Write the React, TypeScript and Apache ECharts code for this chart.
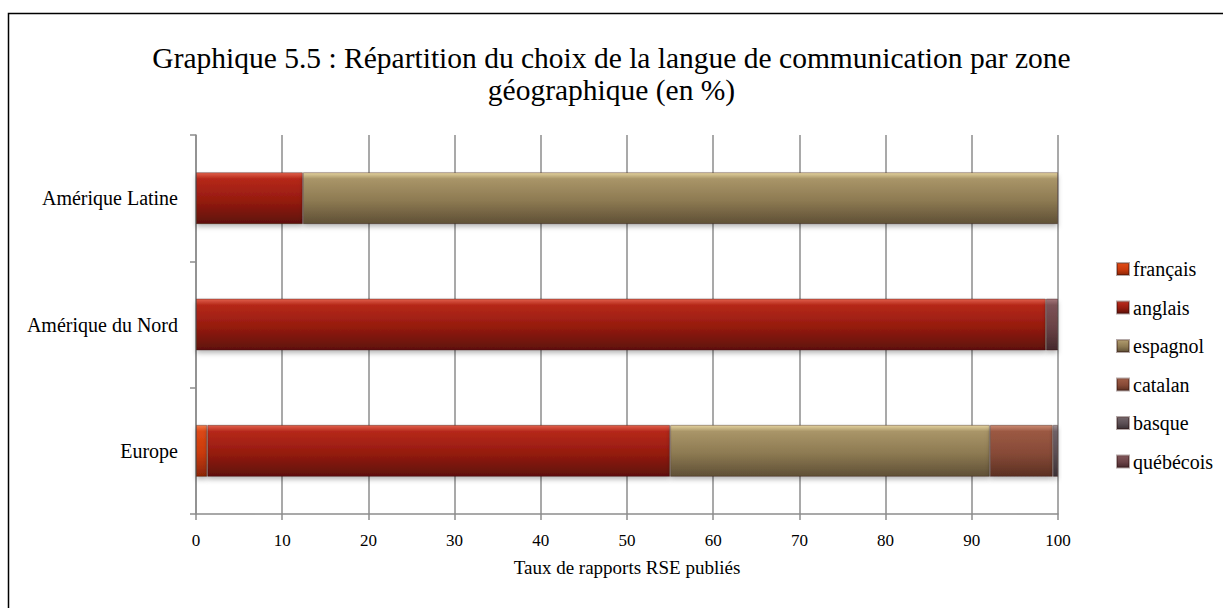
import React, { useEffect, useRef } from "react";
import * as echarts from "echarts";

const categories = ["Europe", "Amérique du Nord", "Amérique Latine"];
const seriesNames = ["français", "anglais", "espagnol", "catalan", "basque", "québécois"];
const francais = [1.3, "-", "-"];
const anglais = [53.7, 98.6, 12.4];
const espagnol = [37.1, "-", 87.6];
const catalan = [7.3, "-", "-"];
const basque = [0.6, "-", "-"];
const quebecois = ["-", 1.4, "-"];
const xTicks = [0, 10, 20, 30, 40, 50, 60, 70, 80, 90, 100];

const seriesData = [francais, anglais, espagnol, catalan, basque, quebecois];

const palettes: string[][] = [
  ["#f27a4a", "#dc4814", "#c93a0c", "#8c2606"],
  ["#e2614c", "#b5281a", "#951b0f", "#5e1008"],
  ["#e3d29e", "#a99568", "#8d7a52", "#5f5036"],
  ["#cb8a72", "#9b5943", "#874a37", "#5b3022"],
  ["#9f9297", "#6e6166", "#5a4e53", "#3a3135"],
  ["#a6787c", "#7c5256", "#6a4246", "#45282c"],
];

const grad = (c: string[]) =>
  new echarts.graphic.LinearGradient(0, 0, 0, 1, [
    { offset: 0, color: c[0] },
    { offset: 0.12, color: c[1] },
    { offset: 0.55, color: c[2] },
    { offset: 1, color: c[3] },
  ]);

const FONT = "'Liberation Serif', 'Times New Roman', serif";

export default function App() {
  const ref = useRef<HTMLDivElement>(null);
  useEffect(() => {
    if (!ref.current) return;
    const chart = echarts.init(ref.current, undefined, { renderer: "svg" });
    chart.setOption({
      animation: false,
      backgroundColor: "#ffffff",
      textStyle: { fontFamily: FONT, color: "#000" },
      title: {
        text: "Graphique 5.5 : Répartition du choix de la langue de communication par zone\ngéographique (en %)",
        left: "center",
        top: 37,
        textStyle: {
          fontFamily: FONT,
          fontSize: 29.5,
          fontWeight: "normal",
          color: "#000",
          lineHeight: 32,
        },
      },
      graphic: [
        {
          type: "rect",
          silent: true,
          shape: { x: 8.5, y: 13.5, width: 1260, height: 640 },
          style: { fill: "none", stroke: "#000", lineWidth: 1.5 },
        },
      ],
      legend: {
        orient: "vertical",
        left: 1111,
        top: 254,
        itemWidth: 12,
        itemHeight: 12,
        itemGap: 18.5,
        icon: "rect",
        data: seriesNames,
        textStyle: { fontFamily: FONT, fontSize: 20, color: "#000", lineHeight: 20, padding: [0, 0, 0, -1] },
      },
      grid: { left: 196, right: 165, top: 135, bottom: 94, containLabel: false },
      xAxis: {
        type: "value",
        min: 0,
        max: 100,
        interval: 10,
        name: "Taux de rapports RSE publiés",
        nameLocation: "middle",
        nameGap: 44,
        nameTextStyle: { fontFamily: FONT, fontSize: 19, color: "#000" },
        axisLine: { show: true, lineStyle: { color: "#8c8c8c", width: 1.5 } },
        axisTick: { show: true, length: 6, lineStyle: { color: "#8c8c8c", width: 1.5 } },
        axisLabel: {
          fontFamily: FONT,
          fontSize: 17,
          color: "#000",
          margin: 18,
          formatter: (v: number) => (xTicks.includes(v) ? String(v) : ""),
        },
        splitLine: { show: true, lineStyle: { color: "#8c8c8c", width: 1.5 } },
      },
      yAxis: {
        type: "category",
        data: categories,
        axisLine: { show: true, lineStyle: { color: "#8c8c8c", width: 1.5 } },
        axisTick: { show: true, length: 6, lineStyle: { color: "#8c8c8c", width: 1.5 } },
        axisLabel: { fontFamily: FONT, fontSize: 20, color: "#000", margin: 18 },
        splitLine: { show: false },
      },
      series: seriesNames.map((name, i) => ({
        name,
        type: "bar",
        stack: "total",
        barWidth: 52,
        data: seriesData[i],
        itemStyle: {
          color: grad(palettes[i]),
          borderColor: "rgba(40,10,5,0.35)",
          borderWidth: 1,
          shadowBlur: 5,
          shadowOffsetY: 3,
          shadowColor: "rgba(0,0,0,0.28)",
        },
      })),
    });
    return () => chart.dispose();
  }, []);
  return (
    <div
      ref={ref}
      style={{ position: "fixed", left: 0, top: 0, width: 1223, height: 608 }}
    />
  );
}
